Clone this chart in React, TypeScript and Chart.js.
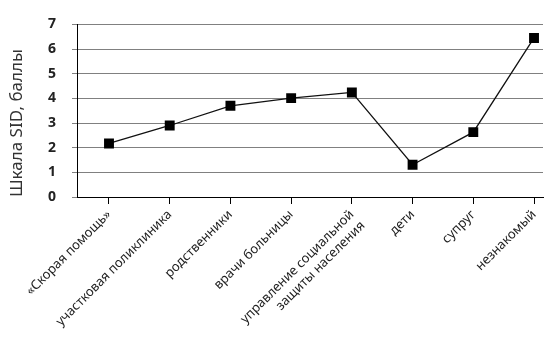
import React, { useEffect, useRef } from "react";
import { Chart, registerables } from "chart.js";

Chart.register(...registerables);

const categories: (string | string[])[] = [
  "«Скорая помощь»",
  "участковая поликлиника",
  "родственники",
  "врачи больницы",
  ["управление социальной", "защиты населения"],
  "дети",
  "супруг",
  "незнакомый",
];
const scores = [2.17, 2.9, 3.7, 4.01, 4.24, 1.31, 2.63, 6.45];
const yTicks = [0, 1, 2, 3, 4, 5, 6, 7];
const yTitle = "Шкала SID, баллы";

const FONT = "'Noto Sans', sans-serif";

export default function App() {
  const ref = useRef<HTMLCanvasElement>(null);
  useEffect(() => {
    document.body.style.margin = "0";
    const ctx = ref.current!;
    const chart = new Chart(ctx, {
      type: "line",
      data: {
        datasets: [
          {
            data: scores.map((v, i) => ({ x: i, y: v })),
            borderColor: "#111",
            borderWidth: 1.3,
            backgroundColor: "#000",
            pointStyle: "rect",
            pointRadius: 7,
            pointBorderWidth: 0,
            pointBackgroundColor: "#000",
            tension: 0,
          },
        ],
      },
      options: {
        animation: false,
        responsive: false,
        maintainAspectRatio: false,
        layout: { padding: { top: 23, right: 10, left: 0, bottom: 0 } },
        plugins: { legend: { display: false }, tooltip: { enabled: false } },
        scales: {
          x: {
            type: "linear",
            min: -0.527,
            max: 7.148,
            afterBuildTicks: (s: any) => {
              s.ticks = categories.map((_, i) => ({ value: i }));
            },
            afterFit: (s: any) => {
              s.height = 159;
            },
            ticks: {
              autoSkip: false,
              minRotation: 45,
              maxRotation: 45,
              padding: 3,
              color: "#222",
              font: { family: FONT, size: 13 },
              callback: (v: any) => categories[v as number] as any,
            },
            grid: {
              drawOnChartArea: false,
              drawTicks: true,
              tickLength: 7,
              color: "#000",
            },
            border: { display: true, color: "#000", width: 1 },
          },
          y: {
            min: 0,
            max: 7,
            afterBuildTicks: (s: any) => {
              s.ticks = yTicks.map((v) => ({ value: v }));
            },
            afterFit: (s: any) => {
              s.width = 77;
            },
            ticks: {
              padding: 16,
              color: "#222",
              font: { family: FONT, size: 14, weight: "bold" },
            },
            grid: { color: "#808080", lineWidth: 1, tickLength: 5 },
            border: { display: true, color: "#000", width: 1 },
            title: {
              display: true,
              text: yTitle,
              align: "start",
              color: "#333",
              padding: { top: 7, bottom: 0 },
              font: { family: FONT, size: 17 },
            },
          },
        },
      },
    } as any);
    return () => chart.destroy();
  }, []);
  return (
    <div style={{ width: 553, height: 356, background: "#fff" }}>
      <canvas ref={ref} width={553} height={356} style={{ display: "block" }} />
    </div>
  );
}
